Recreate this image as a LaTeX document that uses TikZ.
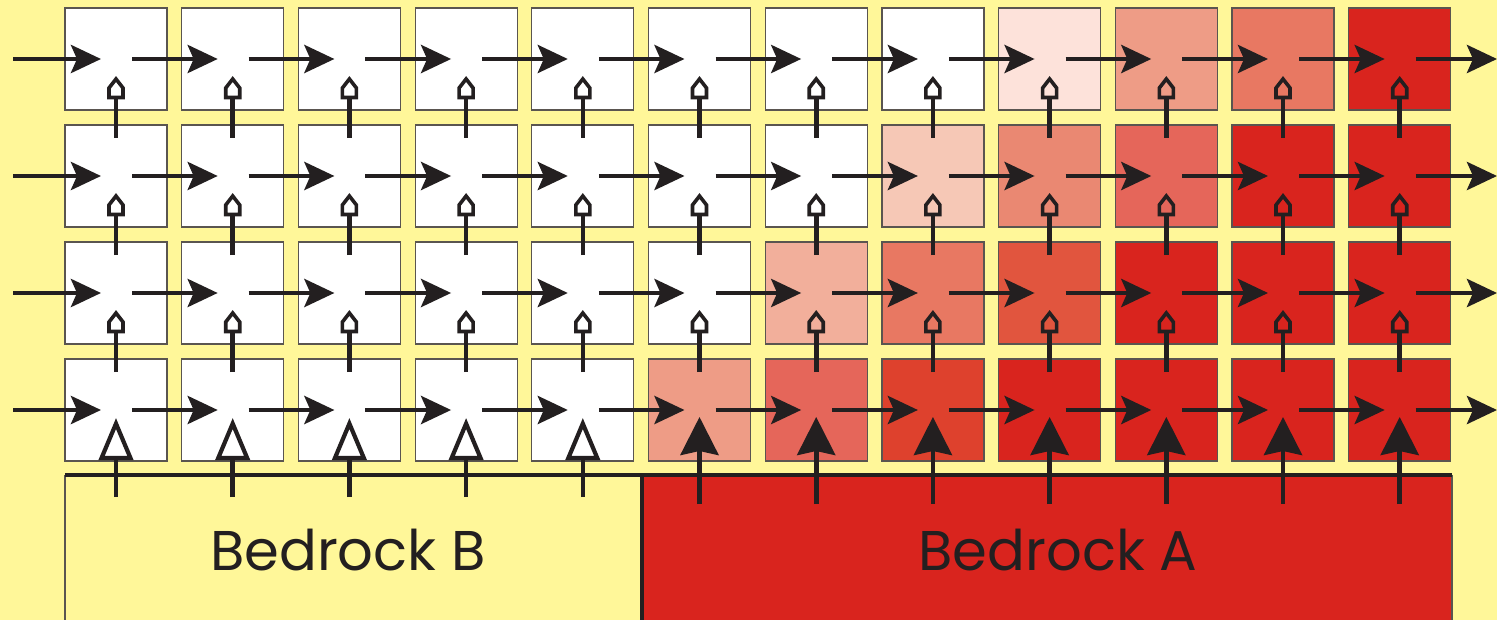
\documentclass[tikz,border=0pt]{standalone}
\usepackage{fontspec}
\setmainfont{Poppins}
\usepackage{tikz}
\usetikzlibrary{arrows.meta,positioning}
\usepackage{xcolor}
\definecolor{sand}{HTML}{FFF799}
\definecolor{rockred}{HTML}{D9241E}
\definecolor{ink}{HTML}{231F20}
\definecolor{cellgray}{HTML}{5A5550}
\definecolor{blusha}{HTML}{FDE2DA}
\definecolor{blushb}{HTML}{F6C8B6}
\definecolor{blushc}{HTML}{F2AF9B}
\definecolor{blushd}{HTML}{EE9C86}
\definecolor{blushe}{HTML}{EA8872}
\definecolor{blushf}{HTML}{E87862}
\definecolor{blushg}{HTML}{E5665A}
\definecolor{blushh}{HTML}{E1553E}
\definecolor{blushi}{HTML}{DE412D}

\tikzset{
  cell/.style={draw=cellgray, line width=0.6pt, minimum size=51pt, inner sep=0pt},
  flow/.style={draw=ink, line width=2.3pt, -{Stealth[length=15pt,width=14pt,inset=3pt]}},
  seep/.style={draw=ink, line width=2.3pt},
  housetip/.style={draw=ink, line width=1.8pt, line join=miter},
  riseB/.style={draw=ink, line width=2.3pt, -{Triangle[open,length=21pt,width=17pt,line width=2.1pt]}},
  riseA/.style={draw=ink, line width=2.3pt, -{Stealth[length=19pt,width=19pt,inset=2pt]}},
  rocklabel/.style={text=ink, font=\fontsize{28}{30}\selectfont}
}

\begin{document}
\begin{tikzpicture}[x=0.5pt,y=-0.5pt]
    \fill[sand] (0,0) rectangle (1497,620);
    \useasboundingbox (0,0) rectangle (1497,620);

    % cells, top row first
    \foreach \shade [count=\i] in {white,white,white,white,white,white,white,white,blusha,blushd,blushf,rockred}
        \node[cell, fill=\shade] (c-\i-1) at ({116+116.7*(\i-1)},59) {};
    \foreach \shade [count=\i] in {white,white,white,white,white,white,white,blushb,blushe,blushg,rockred,rockred}
        \node[cell, fill=\shade] (c-\i-2) at ({116+116.7*(\i-1)},176) {};
    \foreach \shade [count=\i] in {white,white,white,white,white,white,blushc,blushf,blushh,rockred,rockred,rockred}
        \node[cell, fill=\shade] (c-\i-3) at ({116+116.7*(\i-1)},293) {};
    \foreach \shade [count=\i] in {white,white,white,white,white,blushd,blushg,blushi,rockred,rockred,rockred,rockred}
        \node[cell, fill=\shade] (c-\i-4) at ({116+116.7*(\i-1)},410) {};

    % bedrock
    \fill[sand] (65,475) rectangle (642,625);
    \fill[rockred] (642,475) rectangle (1452,625);
    \draw[cellgray, line width=0.6pt] (65,475) -- (65,620);
    \draw[cellgray, line width=0.6pt] (1452,475) -- (1452,620);
    \draw[ink, line width=2.3pt] (642,475) -- (642,620);
    \draw[ink, line width=2.3pt] (65,475) -- (1452,475);
    \node[rocklabel] (bedB) at (348,550) {Bedrock B};
    \node[rocklabel] (bedA) at (1058,550) {Bedrock A};

    % lateral flow
    \foreach \j in {1,...,4} {
        \coordinate (in-\j) at (13,{59+117*(\j-1)});
        \coordinate (out-\j) at (1497,{59+117*(\j-1)});
        \draw[flow] (in-\j) -- ([xshift=-7.5pt]c-1-\j.center);
        \foreach \i [count=\k from 2] in {1,...,11}
            \draw[flow] ([xshift=8pt]c-\i-\j.center) -- ([xshift=-7.5pt]c-\k-\j.center);
        \draw[flow] ([xshift=8pt]c-12-\j.center) -- (out-\j);
    }

    % upward seepage between rows
    \foreach \j [count=\h] in {2,3,4} {
        \foreach \i in {1,...,12} {
            \draw[seep] ([yshift=19pt]c-\i-\j.center) -- ([yshift=-19.25pt]c-\i-\h.center);
            \draw[housetip, shift={(c-\i-\h.center)}] (-7,38.5) -- (-7,29) -- (0,20) -- (7,29) -- (7,38.5) -- cycle;
        }
    }

    % input from bedrock
    \foreach \i in {1,...,5}
        \draw[riseB] ([yshift=-43.5pt]c-\i-4.center) -- ([yshift=-4pt]c-\i-4.center);
    \foreach \i in {6,...,12}
        \draw[riseA] ([yshift=-47pt]c-\i-4.center) -- ([yshift=-3.5pt]c-\i-4.center);
\end{tikzpicture}
\end{document}
